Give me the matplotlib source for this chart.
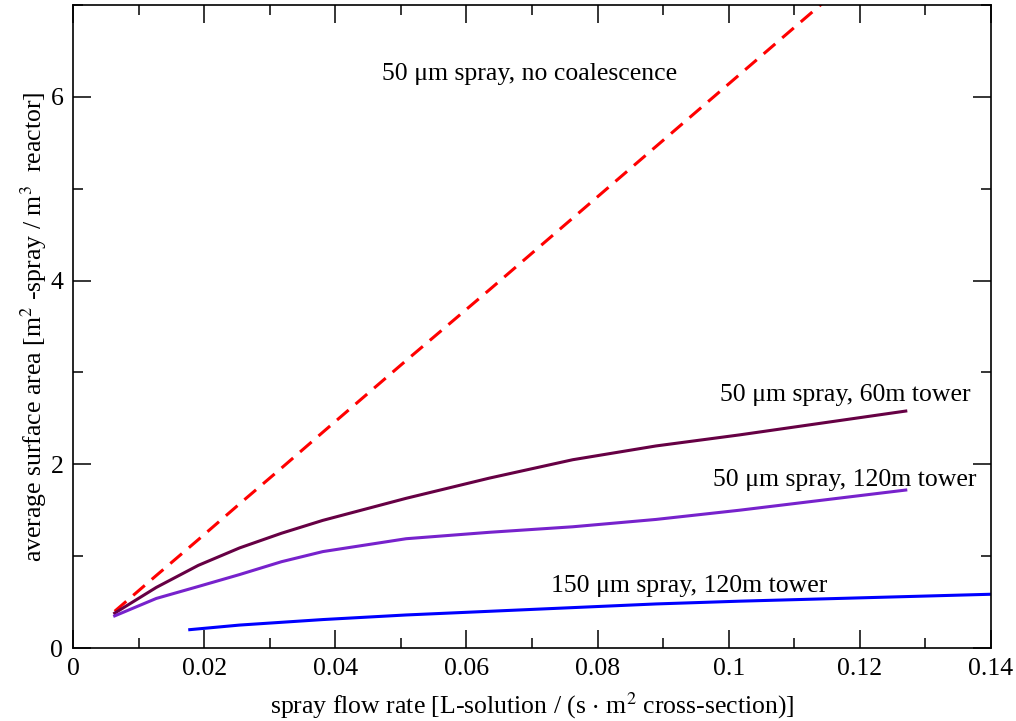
import numpy as np
import matplotlib
matplotlib.use("Agg")
import matplotlib.pyplot as plt
from matplotlib.ticker import MultipleLocator

plt.rcParams['font.family'] = ['Liberation Serif', 'DejaVu Serif']
plt.rcParams['mathtext.fontset'] = 'stix'

# flow rates [L / (s m^2)]
flow = [0.00635, 0.0127, 0.0191, 0.0254, 0.0318, 0.0381, 0.0508, 0.0635,
        0.0762, 0.0889, 0.1016, 0.127]

# 50 um, no coalescence (straight line)
area_nocoal = [0.40, 0.79, 1.18, 1.57, 1.96, 2.35, 3.13, 3.90, 4.68, 5.46, 6.24, 7.80]
# 50 um, 60 m tower
area_60m = [0.38, 0.66, 0.90, 1.09, 1.25, 1.39, 1.63, 1.85, 2.05, 2.20, 2.32, 2.58]
# 50 um, 120 m tower
area_120m = [0.35, 0.54, 0.67, 0.80, 0.94, 1.05, 1.19, 1.26, 1.32, 1.40, 1.50, 1.72]

# 150 um, 120 m tower
flow_150 = [0.0178, 0.0254, 0.0381, 0.0508, 0.0635, 0.0762, 0.0889, 0.1016, 0.127, 0.1524]
area_150 = [0.20, 0.25, 0.31, 0.36, 0.40, 0.44, 0.48, 0.51, 0.56, 0.61]

fig = plt.figure(figsize=(10.16, 7.21), dpi=100)
ax = fig.add_axes([0.0719, 0.1012, 0.9035, 0.8918])

ax.plot(flow, area_nocoal, color='#ff0000', lw=2.2, linestyle=(0, (5, 3)))
ax.plot(flow, area_60m, color='#660044', lw=2.2)
ax.plot(flow, area_120m, color='#7722cc', lw=2.2)
ax.plot(flow_150, area_150, color='#0000ff', lw=2.2)

fs = 18.5
ax.text(0.0697, 6.25, "50 μm spray, no coalescence", fontsize=fs, ha='center', va='center')
ax.text(0.1369, 2.76, "50 μm spray, 60m tower", fontsize=fs, ha='right', va='center')
ax.text(0.1378, 1.83, "50 μm spray, 120m tower", fontsize=fs, ha='right', va='center')
ax.text(0.0729, 0.68, "150 μm spray, 120m tower", fontsize=fs, ha='left', va='center')

ax.set_xlim(0, 0.14)
ax.set_ylim(0, 7)
ax.xaxis.set_major_locator(MultipleLocator(0.02))
ax.xaxis.set_minor_locator(MultipleLocator(0.01))
ax.yaxis.set_major_locator(MultipleLocator(2))
ax.yaxis.set_minor_locator(MultipleLocator(1))
ax.set_xticks([0, 0.02, 0.04, 0.06, 0.08, 0.1, 0.12, 0.14])
ax.set_xticklabels(["0", "0.02", "0.04", "0.06", "0.08", "0.1", "0.12", "0.14"])

ax.tick_params(which='both', direction='in', top=True, right=True, labelsize=fs, width=1.1)
ax.tick_params(which='major', length=13, pad=7)
ax.tick_params(which='minor', length=7)
for s in ax.spines.values():
    s.set_linewidth(1.2)

ax.set_xlabel(r"spray flow rate [L-solution / (s $\cdot$ m$^2$ cross-section)]", fontsize=fs, labelpad=8)
ax.set_ylabel(r"average surface area [m$^2$ -spray / m$^3$  reactor]", fontsize=fs, labelpad=1)

fig.savefig("out.png", dpi=100)
